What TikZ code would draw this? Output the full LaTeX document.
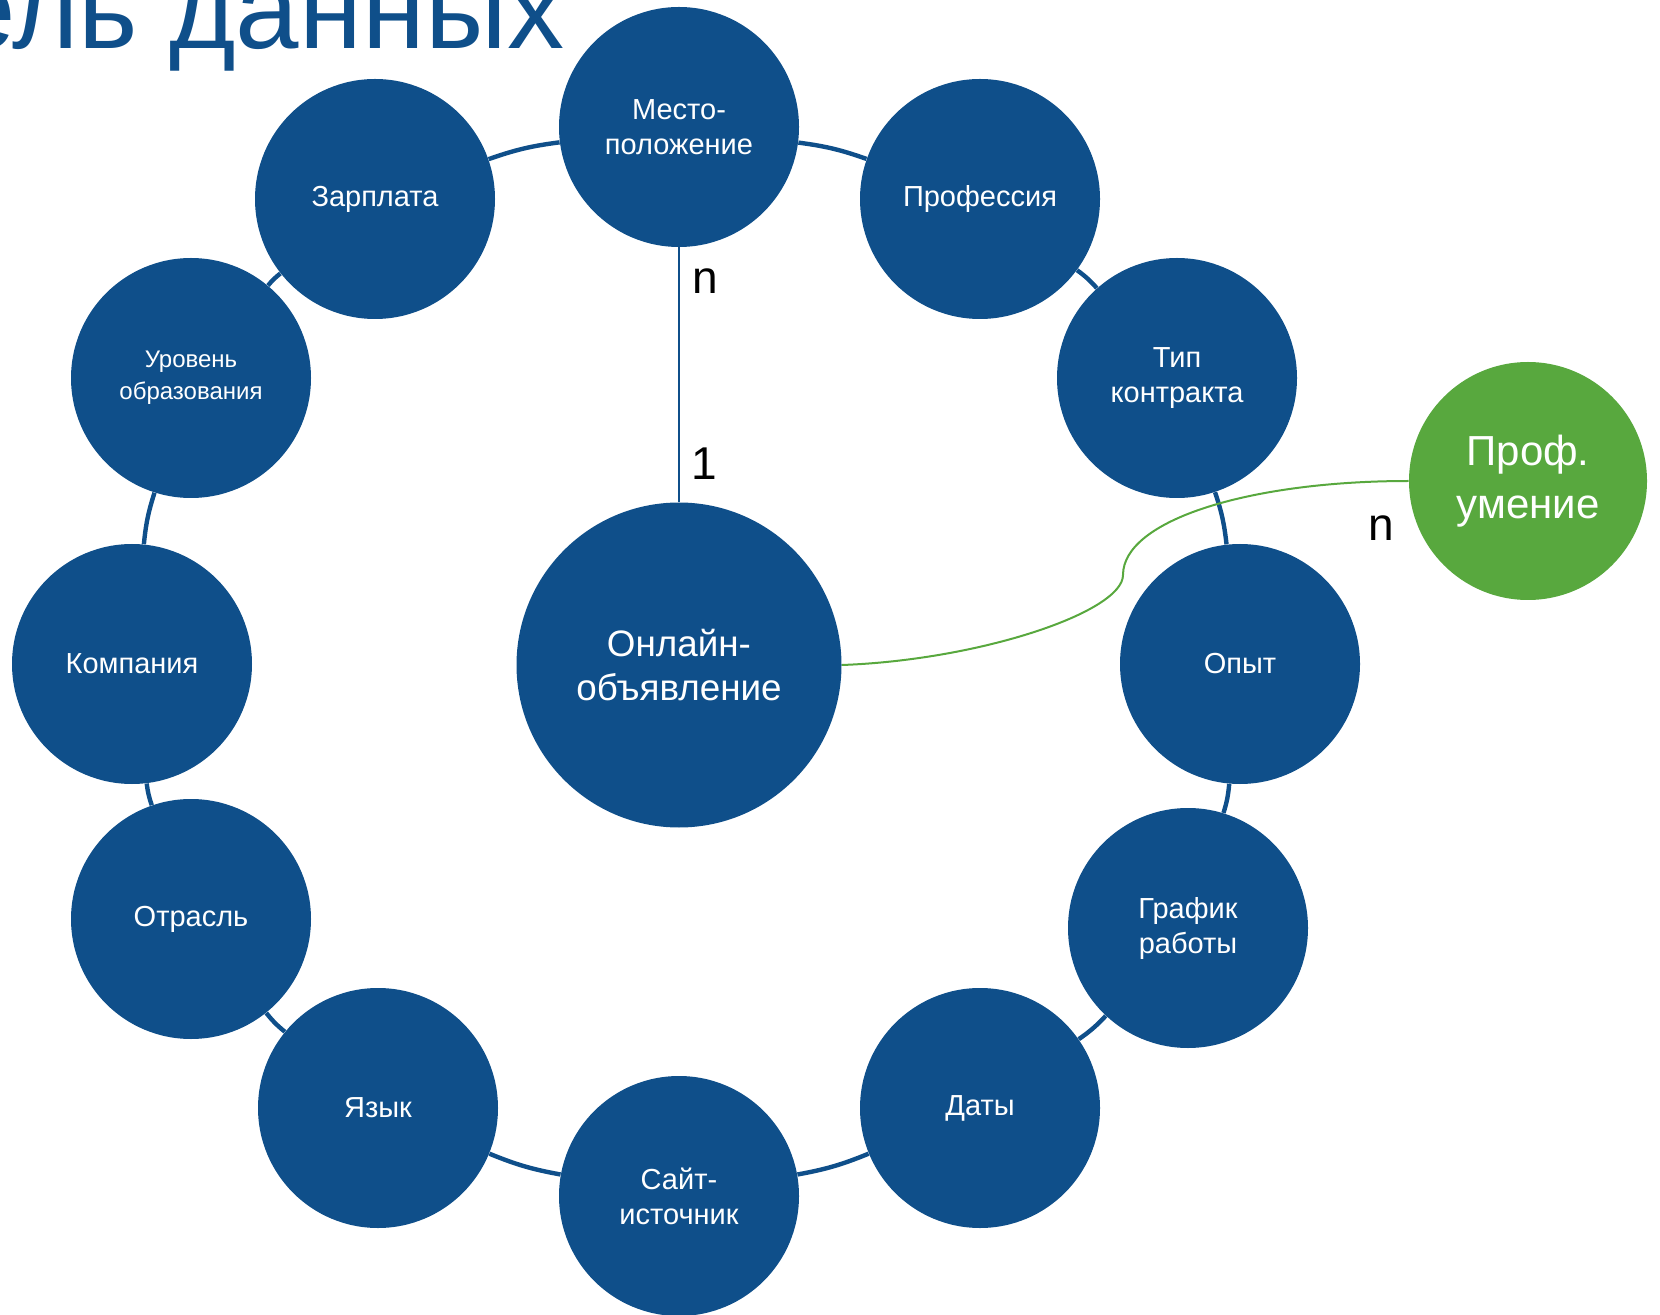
\documentclass[tikz,border=0pt]{standalone}
\usepackage{fontspec}
\setmainfont{Liberation Sans}
\definecolor{nodeblue}{RGB}{15,79,138}
\definecolor{nodegreen}{RGB}{88,168,62}
\begin{document}
\begin{tikzpicture}[x=0.5pt,y=-0.5pt,
  ent/.style={circle,fill=nodeblue,text=white,minimum size=120pt,inner sep=0pt,align=center,font=\fontsize{14.5}{17.5}\selectfont},
  ring/.style={draw=nodeblue,line width=2.2pt,bend left=6},
  card/.style={text=black,font=\fontsize{23}{26}\selectfont,inner sep=0pt}]
\useasboundingbox (0,0) rectangle (1660,1315);
\clip (0,0) rectangle (1660,1315);
\node[anchor=base west,text=nodeblue,font=\fontsize{57}{60}\selectfont,inner sep=0pt] (title) at (-48,49) {ель данных};
\node[ent] (m) at (679,127) {Место-\\положение};
\node[ent] (prof) at (980,199) {Профессия};
\node[ent] (tip) at (1177,378) {Тип\\контракта};
\node[ent] (opyt) at (1240,664) {Опыт};
\node[ent] (graf) at (1188,928) {График\\работы};
\node[ent] (daty) at (980,1108) {Даты};
\node[ent] (sait) at (679,1196) {Сайт-\\источник};
\node[ent] (yaz) at (378,1108) {Язык};
\node[ent] (otr) at (191,919) {Отрасль};
\node[ent] (komp) at (132,664) {Компания};
\node[ent,font=\fontsize{12}{16}\selectfont] (urov) at (191,378) {Уровень\\образования};
\node[ent] (zarp) at (375,199) {Зарплата};
\node[ent,minimum size=162.5pt,font=\fontsize{18.4}{22.2}\selectfont] (onl) at (679,665) {Онлайн-\\объявление};
\node[ent,fill=nodegreen,minimum size=119pt,font=\fontsize{21}{26.5}\selectfont] (pu) at (1528,481) {Проф.\\умение};
\draw[ring] (m) to (prof);
\draw[ring] (prof) to (tip);
\draw[ring] (tip) to (opyt);
\draw[ring] (opyt) to (graf);
\draw[ring] (graf) to (daty);
\draw[ring] (daty) to (sait);
\draw[ring] (sait) to (yaz);
\draw[ring] (yaz) to (otr);
\draw[ring] (otr) to (komp);
\draw[ring] (komp) to (urov);
\draw[ring] (urov) to (zarp);
\draw[ring] (zarp) to (m);
\draw[draw=nodeblue,line width=1pt] (m) -- (onl);
\coordinate (gm) at (1123,575);
\draw[draw=nodegreen,line width=1pt] (onl.east) .. controls (980,660) and (1123,612) .. (gm) .. controls (1123,520) and (1250,481) .. (pu.west);
\node[card] (n1) at (705,281) {n};
\node[card] (one) at (704,464) {1};
\node[card] (n2) at (1381,528) {n};
\end{tikzpicture}
\end{document}
